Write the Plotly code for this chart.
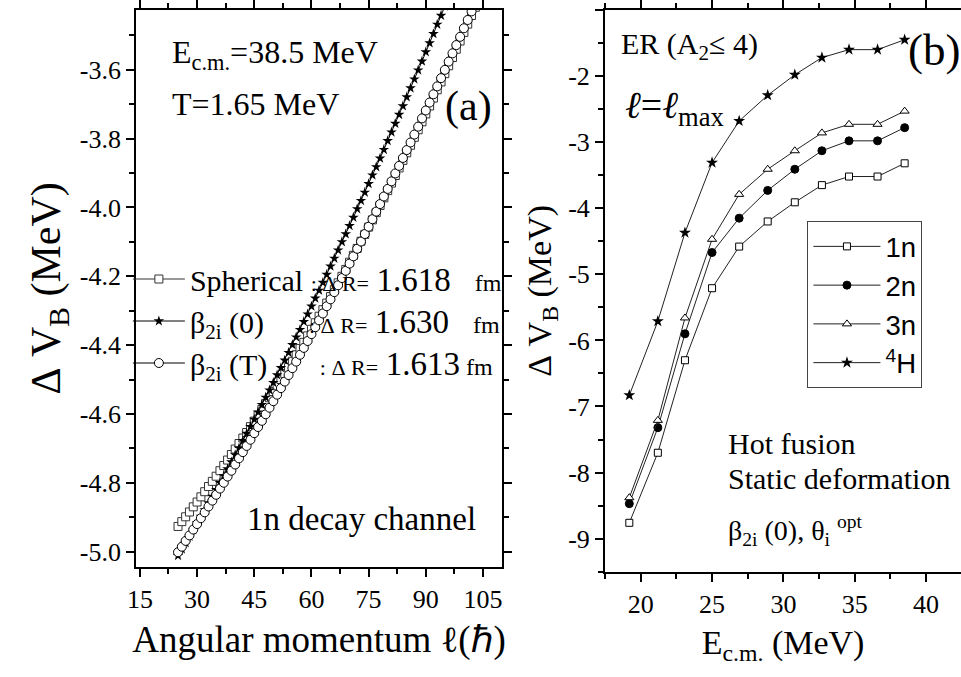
import plotly.graph_objects as go

# ---------------- panel (a): Delta V_B versus angular momentum ----------------
ell_sph = list(range(25, 104))
dvb_sph = [-4.927, -4.913, -4.899, -4.885, -4.870, -4.856, -4.841, -4.826, -4.811, -4.796,
           -4.781, -4.765, -4.750, -4.734, -4.718, -4.702, -4.686, -4.670, -4.654, -4.637,
           -4.621, -4.604, -4.587, -4.570, -4.553, -4.535, -4.518, -4.500, -4.483, -4.465,
           -4.447, -4.428, -4.410, -4.392, -4.373, -4.354, -4.335, -4.316, -4.297, -4.278,
           -4.259, -4.239, -4.219, -4.200, -4.180, -4.159, -4.139, -4.119, -4.098, -4.078,
           -4.057, -4.036, -4.015, -3.994, -3.972, -3.951, -3.929, -3.907, -3.885, -3.863,
           -3.841, -3.819, -3.796, -3.774, -3.751, -3.728, -3.705, -3.682, -3.658, -3.635,
           -3.611, -3.588, -3.564, -3.540, -3.516, -3.491, -3.467, -3.442, -3.418]

ell_b0 = list(range(25, 96))
dvb_b0 = [-5.012, -4.993, -4.975, -4.956, -4.937, -4.917, -4.898, -4.879, -4.859, -4.840,
          -4.820, -4.800, -4.780, -4.760, -4.740, -4.719, -4.699, -4.678, -4.657, -4.637,
          -4.616, -4.595, -4.573, -4.552, -4.531, -4.509, -4.487, -4.466, -4.444, -4.422,
          -4.399, -4.377, -4.355, -4.332, -4.310, -4.287, -4.264, -4.241, -4.218, -4.195,
          -4.171, -4.148, -4.124, -4.100, -4.077, -4.053, -4.029, -4.004, -3.980, -3.956,
          -3.931, -3.906, -3.882, -3.857, -3.832, -3.806, -3.781, -3.756, -3.730, -3.705,
          -3.679, -3.653, -3.627, -3.601, -3.575, -3.548, -3.522, -3.495, -3.468, -3.442,
          -3.415]

ell_bT = list(range(25, 103))
dvb_bT = [-5.002, -4.986, -4.969, -4.953, -4.936, -4.920, -4.903, -4.886, -4.869, -4.852,
          -4.835, -4.817, -4.800, -4.782, -4.765, -4.747, -4.729, -4.711, -4.693, -4.675,
          -4.656, -4.638, -4.620, -4.601, -4.582, -4.563, -4.544, -4.525, -4.506, -4.487,
          -4.467, -4.448, -4.428, -4.408, -4.388, -4.368, -4.348, -4.328, -4.308, -4.287,
          -4.267, -4.246, -4.226, -4.205, -4.184, -4.163, -4.142, -4.120, -4.099, -4.077,
          -4.056, -4.034, -4.012, -3.990, -3.968, -3.946, -3.924, -3.901, -3.879, -3.856,
          -3.833, -3.811, -3.788, -3.765, -3.741, -3.718, -3.695, -3.671, -3.648, -3.624,
          -3.600, -3.576, -3.552, -3.528, -3.504, -3.479, -3.455, -3.430]

# ---------------- panel (b): Delta V_B versus E_c.m. for ER channels ----------------
e_cm = [19.2, 21.2, 23.1, 25.0, 26.9, 28.9, 30.8, 32.7, 34.6, 36.6, 38.5]
dvb_1n = [-8.76, -7.70, -6.30, -5.21, -4.58, -4.20, -3.91, -3.65, -3.52, -3.52, -3.32]
dvb_2n = [-8.47, -7.32, -5.90, -4.67, -4.15, -3.73, -3.41, -3.13, -2.98, -2.98, -2.78]
dvb_3n = [-8.38, -7.21, -5.66, -4.47, -3.79, -3.41, -3.13, -2.86, -2.73, -2.73, -2.53]
dvb_4h = [-6.83, -5.71, -4.37, -3.31, -2.68, -2.29, -1.98, -1.72, -1.60, -1.60, -1.45]

# tick values and labels (plain hyphen minus signs)
a_xticks = [15, 30, 45, 60, 75, 90, 105]
a_yticks = [-5.0, -4.8, -4.6, -4.4, -4.2, -4.0, -3.8, -3.6]
a_ylabels = ["-5.0", "-4.8", "-4.6", "-4.4", "-4.2", "-4.0", "-3.8", "-3.6"]
b_xticks = [20, 25, 30, 35, 40]
b_yticks = [-9, -8, -7, -6, -5, -4, -3, -2, -1]
b_ylabels = ["-9", "-8", "-7", "-6", "-5", "-4", "-3", "-2", "-1"]
b_top_tick = [-1]
b_top_label = ["-1"]

W, H = 961, 677
SERIF = "Liberation Serif"
SANS = "Liberation Sans"


def fx(px):
    return px / W


def fy(py):
    return 1 - py / H


NB = "\u00a0"


def dr_label(head, pad, value, tail_pad):
    """Legend entry: model name followed by the radius shift."""
    return (head + NB * pad + "<span style='font-size:22px'>:" + NB + "\u0394" + NB + "R=</span>"
            + NB + "<span style='font-size:33px'>" + value + "</span>"
            + "<span style='font-size:24px'>" + NB * tail_pad + "fm</span>")


fig = go.Figure()

# panel (a) curves
fig.add_trace(go.Scatter(
    x=ell_sph, y=dvb_sph, mode="lines+markers", xaxis="x", yaxis="y",
    name=dr_label("Spherical", 1, "1.618", 4), legendgroup="sph",
    line=dict(color="#333333", width=1),
    marker=dict(symbol="square", size=8, color="white", line=dict(color="#333333", width=1)),
    legend="legend"))
fig.add_trace(go.Scatter(
    x=ell_b0, y=dvb_b0, mode="lines+markers", xaxis="x", yaxis="y",
    name=dr_label("\u03b2<sub>2i</sub>" + NB + "(0)", 6, "1.630", 4), legendgroup="b0",
    line=dict(color="black", width=1),
    marker=dict(symbol="star", size=8, color="black", line=dict(color="black", width=0)),
    legend="legend"))
fig.add_trace(go.Scatter(
    x=ell_bT, y=dvb_bT, mode="lines+markers", xaxis="x", yaxis="y",
    name=dr_label("\u03b2<sub>2i</sub>" + NB + "(T)", 7, "1.613", 1), legendgroup="bT",
    line=dict(color="black", width=1),
    marker=dict(symbol="circle", size=9, color="white", line=dict(color="black", width=1)),
    legend="legend"))

# panel (b) curves
b_series = [
    ("1n", dvb_1n, dict(symbol="square", size=7, color="white", line=dict(color="black", width=1))),
    ("2n", dvb_2n, dict(symbol="circle", size=8, color="black", line=dict(color="black", width=1))),
    ("3n", dvb_3n, dict(symbol="triangle-up", size=8, color="white", line=dict(color="black", width=1))),
    ("<sup>4</sup>H", dvb_4h, dict(symbol="star", size=9, color="black", line=dict(color="black", width=0))),
]
for name, vals, mk in b_series:
    fig.add_trace(go.Scatter(
        x=e_cm, y=vals, mode="lines+markers", xaxis="x2", yaxis="y2", name=name,
        line=dict(color="#222222", width=1), marker=mk, legend="legend2"))

# empty trace that attaches the companion label axis to panel (b)
fig.add_trace(go.Scatter(x=[], y=[], xaxis="x2", yaxis="y3", showlegend=False,
                         hoverinfo="skip", mode="markers"))

axis_common = dict(
    showline=True, linewidth=2, linecolor="black", showgrid=False, zeroline=False,
    ticks="outside", ticklen=8, tickwidth=2, tickcolor="black",
    tickfont=dict(family=SERIF, size=26, color="black"),
)

b_yrange = [-9.5, -1]

fig.update_layout(
    width=W, height=H,
    margin=dict(l=0, r=0, t=0, b=0),
    paper_bgcolor="white", plot_bgcolor="white",
    font=dict(family=SERIF, color="black"),
    xaxis=dict(
        **axis_common, domain=[fx(128.3), fx(497.7)], range=[14, 110], anchor="y",
        tickvals=a_xticks, mirror="ticks",
        minor=dict(dtick=7.5, tick0=15, ticks="outside", ticklen=5, tickwidth=1.5, tickcolor="black"),
        title=dict(text="Angular momentum \u2113(\u210f)", font=dict(family=SERIF, size=37), standoff=13),
    ),
    yaxis=dict(
        **axis_common, domain=[fy(566.7), fy(10)], range=[-5.044, -3.426], anchor="x",
        tickvals=a_yticks, ticktext=a_ylabels, mirror="ticks",
        minor=dict(dtick=0.1, tick0=-5.0, ticks="outside", ticklen=5, tickwidth=1.5, tickcolor="black"),
        title=dict(text="\u0394" + NB + "V<sub>B</sub>" + NB + "(MeV)", font=dict(family=SERIF, size=42),
                   standoff=6),
    ),
    xaxis2=dict(
        **axis_common, domain=[fx(601.7), 1.0], range=[17.5, 42.45], anchor="y2",
        tickvals=b_xticks, mirror="ticks",
        minor=dict(dtick=2.5, tick0=17.5, ticks="outside", ticklen=5, tickwidth=1.5, tickcolor="black"),
        title=dict(text="E<sub>c.m.</sub> (MeV)", font=dict(family=SERIF, size=34), standoff=12),
    ),
    yaxis2=dict(
        **axis_common, domain=[fy(571.7), fy(10)], range=b_yrange, anchor="x2",
        tickvals=b_yticks, ticktext=b_ylabels,
        minor=dict(dtick=0.5, tick0=-9, ticks="outside", ticklen=5, tickwidth=1.5, tickcolor="black"),
        title=dict(text="\u0394" + NB + "V<sub>B</sub>" + NB + "(MeV)", font=dict(family=SERIF, size=34),
                   standoff=6),
    ),
    # companion axis carrying the label of the top tick, nudged to stay inside the page
    yaxis3=dict(
        overlaying="y2", anchor="x2", side="left", range=b_yrange,
        showline=False, showgrid=False, zeroline=False,
        ticks="outside", ticklen=8, tickwidth=2, tickcolor="rgba(0,0,0,0)",
        tickvals=b_top_tick, ticktext=b_top_label, ticklabelshift=-5,
        tickfont=dict(family=SERIF, size=26, color="black"),
    ),
    legend=dict(
        x=fx(120), y=fy(253), xanchor="left", yanchor="top",
        bgcolor="rgba(0,0,0,0)", borderwidth=0,
        font=dict(family=SERIF, size=30, color="black"),
        itemwidth=52, tracegroupgap=0,
    ),
    legend2=dict(
        x=fx(806), y=fy(221), xanchor="left", yanchor="top",
        bgcolor="white", bordercolor="#444444", borderwidth=1,
        font=dict(family=SANS, size=27.5, color="black"),
        itemwidth=67,
    ),
    showlegend=True,
)

notes = [
    ("E<sub>c.m.</sub>=38.5 MeV", 163, 54, 32, "left"),
    ("T=1.65 MeV", 163, 104, 32, "left"),
    ("(a)", 464, 107, 42, "center"),
    ("1n decay channel", 238, 519, 33, "left"),
    ("ER (A<sub>2</sub>\u2264 4)", 616, 46, 30, "left"),
    ("<i>\u2113</i>=<i>\u2113</i><sub>max</sub>", 620, 108, 38, "left"),
    ("(b)", 934, 50, 45, "center"),
    ("Hot fusion", 724, 443, 30, "left"),
    ("Static deformation", 724, 478, 30, "left"),
    ("\u03b2<sub>2i</sub> (0), \u03b8<sub>i</sub> <sup>opt</sup>", 724, 530, 28, "left"),
]
for txt, px, py, size, anchor in notes:
    fig.add_annotation(
        text=txt, x=fx(px), y=fy(py), xref="paper", yref="paper",
        xanchor=anchor, yanchor="middle", showarrow=False,
        font=dict(family=SERIF, size=size, color="black"),
    )

fig.write_html("out.html")
